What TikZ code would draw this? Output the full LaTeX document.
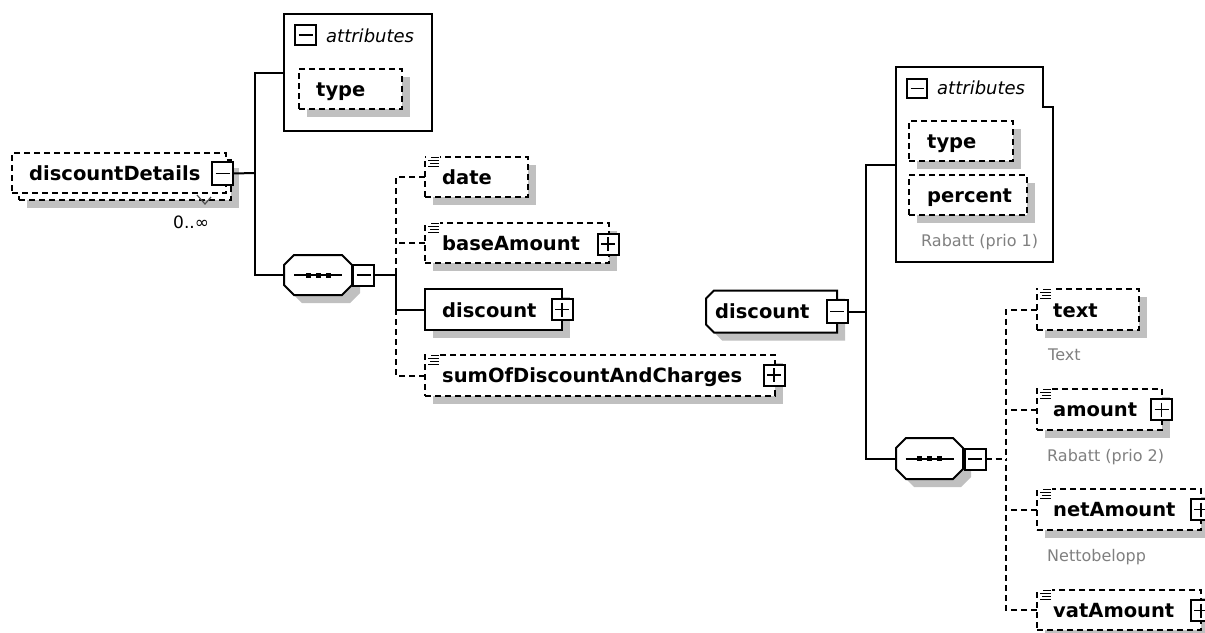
\documentclass[tikz,border=0pt]{standalone}
\usepackage{fontspec}
\setmainfont{DejaVu Sans}
\usetikzlibrary{calc,shadows}
\definecolor{shadowgray}{RGB}{192,192,192}
\definecolor{notegray}{RGB}{128,128,128}
% octagon outline of a node: #1 node, #2 chamfer, #3 dx, #4 dy
\newcommand{\octof}[4]{($(#1.north west)+(#2+#3,#4)$) -- ($(#1.north east)+(-#2+#3,#4)$)
  -- ($(#1.north east)+(#3,#2+#4)$) -- ($(#1.south east)+(#3,-#2+#4)$)
  -- ($(#1.south east)+(-#2+#3,#4)$) -- ($(#1.south west)+(#2+#3,#4)$)
  -- ($(#1.south west)+(#3,-#2+#4)$) -- ($(#1.north west)+(#3,#2+#4)$) -- cycle}
% left-chamfered outline
\newcommand{\lchamof}[4]{($(#1.north west)+(#2+#3,#4)$) -- ($(#1.north east)+(#3,#4)$)
  -- ($(#1.south east)+(#3,#4)$) -- ($(#1.south west)+(#2+#3,#4)$)
  -- ($(#1.south west)+(#3,-#2+#4)$) -- ($(#1.north west)+(#3,#2+#4)$) -- cycle}
% sequence symbol inside a node
\newcommand{\seqsym}[1]{%
  \draw[line width=2pt] ($(#1.center)+(-24,0)$) -- ($(#1.center)+(24,0)$);
  \fill[black] ($(#1.center)+(-12.5,-2.5)$) rectangle ++(5,5);
  \fill[black] ($(#1.center)+(-2.5,-2.5)$) rectangle ++(5,5);
  \fill[black] ($(#1.center)+(7.5,-2.5)$) rectangle ++(5,5);}
\tikzset{
  base/.style={line width=2pt, outer sep=0pt, inner sep=0pt},
  conn/.style={line width=2pt},
  dashedline/.style={dash pattern=on 6pt off 4pt},
  sh/.style={drop shadow={shadow xshift=8pt, shadow yshift=-8pt, fill=shadowgray, opacity=1}},
  optbox/.style={base, draw, fill=white, dashedline, sh, anchor=north west},
  optboxns/.style={base, draw, fill=white, dashedline, anchor=north west},
  reqbox/.style={base, draw, fill=white, sh, anchor=north west},
  attrbox/.style={base, draw, anchor=north west},
  frame/.style={base},
  pmbox/.style={base, draw, fill=white, minimum width=21pt, minimum height=21pt},
  minusbox/.style={pmbox, path picture={
      \draw[black, line width=1.8pt] ([xshift=3.5pt]path picture bounding box.west) -- ([xshift=-3.5pt]path picture bounding box.east);}},
  plusbox/.style={pmbox, path picture={
      \draw[black, line width=1.8pt] ([xshift=3.5pt]path picture bounding box.west) -- ([xshift=-3.5pt]path picture bounding box.east);
      \draw[black, line width=1.8pt] ([yshift=-3.5pt]path picture bounding box.north) -- ([yshift=3.5pt]path picture bounding box.south);}},
  icon/.style={base, fill=white, minimum width=14pt, minimum height=12pt, anchor=north west,
    path picture={
      \draw[black, line width=1.2pt] ([xshift=5pt,yshift=-2pt]path picture bounding box.north west) -- ++(8pt,0pt);
      \draw[black, line width=1.2pt] ([xshift=2pt,yshift=-5pt]path picture bounding box.north west) -- ++(11pt,0pt);
      \draw[black, line width=1.2pt] ([xshift=4pt,yshift=-8pt]path picture bounding box.north west) -- ++(9pt,0pt);
      \draw[black, line width=1.2pt] ([xshift=2pt,yshift=-11pt]path picture bounding box.north west) -- ++(11pt,0pt);
    }},
  lbl/.style={inner sep=0pt, anchor=base west, font=\fontsize{19.5pt}{22pt}\selectfont\bfseries},
  ital/.style={inner sep=0pt, anchor=base west, font=\fontsize{18pt}{21pt}\selectfont\itshape},
  note/.style={inner sep=0pt, anchor=base west, text=notegray, font=\fontsize{16pt}{19pt}\selectfont},
  card/.style={inner sep=0pt, anchor=base west, font=\fontsize{17pt}{20pt}\selectfont},
}
\begin{document}
\begin{tikzpicture}[x=1pt,y=-1pt]
\useasboundingbox[fill=white] (0,0) rectangle (1205,632);

% ---------- discountDetails ----------
\node[optbox, minimum width=212pt, minimum height=40pt] (ddback) at (19,160) {};
\node[optboxns, minimum width=214pt, minimum height=40pt] (dd) at (12,153) {};
\node[lbl] (ddt) at (29,180) {discountDetails};
\node[minusbox, minimum height=23pt] (ddm) at (222.5,173.5) {};
\draw[line width=1.2pt, black!70] (197,195) -- (205,204) -- (211,197);
\node[card] (ddcard) at (173,228) {0..∞};

% ---------- attributes 1 ----------
\node[attrbox, minimum width=148pt, minimum height=117pt] (attr1) at (284,14) {};
\node[minusbox, minimum height=20pt] (attr1m) at (305.5,35) {};
\node[ital] (attr1t) at (326,42) {attributes};
\node[optbox, minimum width=103pt, minimum height=40pt] (type1) at (299,69) {};
\node[lbl] (type1t) at (316,96) {type};

% ---------- sequence 1 ----------
\node[frame, minimum width=68pt, minimum height=40pt] (seq1) at (318,275) {};
\fill[shadowgray] \octof{seq1}{10}{8}{8};
\draw[conn, fill=white] \octof{seq1}{10}{0}{0};
\seqsym{seq1}
\node[minusbox] (seq1m) at (363.5,275) {};
\coordinate (j1) at (255,173);
\coordinate (j2) at (396,275);

% ---------- children of sequence 1 ----------
\node[optbox, minimum width=103pt, minimum height=40pt] (date) at (425,157) {};
\node[icon] (dateic) at (426,155.5) {};
\node[lbl] (datet) at (442,184) {date};

\node[optbox, minimum width=184pt, minimum height=40pt] (baseam) at (425,223) {};
\node[icon] (baseic) at (426,221.5) {};
\node[lbl] (baset) at (442,250) {baseAmount};
\node[plusbox] (basep) at (608,244) {};

\node[reqbox, minimum width=137pt, minimum height=41pt] (disc1) at (425,289) {};
\node[lbl] (disc1t) at (442,317) {discount};
\node[plusbox] (disc1p) at (562,309.5) {};

\node[optbox, minimum width=350pt, minimum height=41pt] (sumdc) at (425,355) {};
\node[icon] (sumic) at (426,353.5) {};
\node[lbl] (sumt) at (442,382) {sumOfDiscountAndCharges};
\node[plusbox] (sump) at (774,375) {};

% ---------- discount (complex type) ----------
\node[frame, minimum width=131pt, minimum height=42pt] (disc2) at (771.5,311.5) {};
\fill[shadowgray] \lchamof{disc2}{8}{8}{8};
\draw[conn, fill=white] \lchamof{disc2}{8}{0}{0};
\node[lbl] (disc2t) at (715,318) {discount};
\node[minusbox, minimum height=23pt] (disc2m) at (837,311.5) {};
\coordinate (j3) at (866,311.5);

% ---------- attributes 2 ----------
\node[frame, anchor=north west, minimum width=157pt, minimum height=195pt] (attr2) at (896,67) {};
\draw[conn] (attr2.south west) -- (attr2.north west) -- ([xshift=-10pt]attr2.north east)
  -- ([xshift=-10pt,yshift=-40pt]attr2.north east) -- ([yshift=-40pt]attr2.north east)
  -- (attr2.south east) -- cycle;
\node[minusbox, minimum width=20pt, minimum height=19pt] (attr2m) at (917,88.5) {};
\node[ital] (attr2t) at (937,94) {attributes};
\node[optbox, minimum width=104pt, minimum height=40pt] (type2) at (909,121) {};
\node[lbl] (type2t) at (927,148) {type};
\node[optbox, minimum width=118pt, minimum height=40pt] (percent) at (909,175) {};
\node[lbl] (percentt) at (927,202) {percent};
\node[note] (percentn) at (921,246) {Rabatt (prio 1)};

% ---------- sequence 2 ----------
\node[frame, minimum width=67pt, minimum height=41pt] (seq2) at (929.5,458.5) {};
\fill[shadowgray] \octof{seq2}{10}{8}{8};
\draw[conn, fill=white] \octof{seq2}{10}{0}{0};
\seqsym{seq2}
\node[minusbox] (seq2m) at (975,459) {};
\coordinate (j4) at (1006,459);

% ---------- children of sequence 2 ----------
\node[optbox, minimum width=102pt, minimum height=41pt] (textel) at (1037,289) {};
\node[icon] (textic) at (1038,287.5) {};
\node[lbl] (textt) at (1053,317) {text};
\node[note] (textn) at (1048,360) {Text};

\node[optbox, minimum width=125pt, minimum height=41pt] (amount) at (1037,389) {};
\node[icon] (amountic) at (1038,387.5) {};
\node[lbl] (amountt) at (1053,416) {amount};
\node[plusbox] (amountp) at (1161.5,409.5) {};
\node[note] (amountn) at (1047,461) {Rabatt (prio 2)};

\node[optbox, minimum width=164pt, minimum height=41pt] (netam) at (1037,489) {};
\node[icon] (netic) at (1038,487.5) {};
\node[lbl] (nett) at (1053,516) {netAmount};
\node[plusbox] (netp) at (1201,509.5) {};
\node[note] (netn) at (1047,561) {Nettobelopp};

\node[optbox, minimum width=164pt, minimum height=40pt] (vatam) at (1037,590) {};
\node[icon] (vatic) at (1038,588.5) {};
\node[lbl] (vatt) at (1053,617) {vatAmount};
\node[plusbox] (vatp) at (1201,610.5) {};

% ---------- connectors ----------
\draw[conn] (ddm.east) -- (j1);
\draw[conn] (attr1.west) -| (j1) |- (seq1.west);
\draw[conn] (seq1m.east) -- (j2) |- (disc1.west);
\draw[conn,dashedline] (date.west) -| (j2);
\draw[conn,dashedline] (baseam.west) -- (baseam.west -| j2);
\draw[conn,dashedline] (sumdc.west) -| (j2 |- disc1.west);

\draw[conn] (disc2m.east) -- (j3);
\draw[conn] (attr2.west) -| (j3) |- (seq2.west);
\draw[conn,dashedline] (seq2m.east) -- (j4);
\draw[conn,dashedline] (textel.west) -| (j4);
\draw[conn,dashedline] (amount.west) -- (amount.west -| j4);
\draw[conn,dashedline] (netam.west) -- (netam.west -| j4);
\draw[conn,dashedline] (vatam.west) -| (j4);
\end{tikzpicture}
\end{document}
